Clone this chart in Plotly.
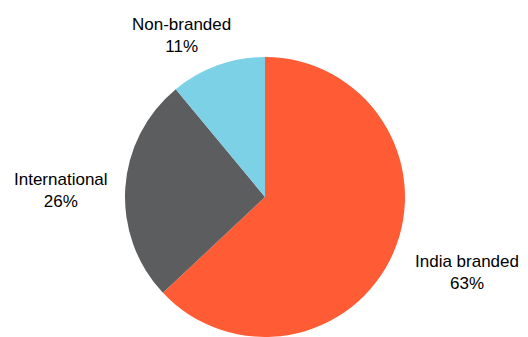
import plotly.graph_objects as go

# Market share by segment (%)
segments = ["India branded", "International", "Non-branded"]
shares = [63, 26, 11]

colors = ["#FF5B35", "#5C5D5F", "#7DD1E6"]
# label centres (pixels from top-left), one per segment
label_xy = [(467, 272), (61, 191), (181, 35)]

W, H = 528, 337
cx, cy, r = 265, 197, 140

fig = go.Figure(
    go.Pie(
        labels=segments,
        values=shares,
        sort=False,
        direction="clockwise",
        rotation=0,
        marker=dict(colors=colors, line=dict(width=0)),
        textinfo="none",
        hoverinfo="label+percent",
        showlegend=False,
        domain=dict(x=[(cx - r) / W, (cx + r) / W],
                    y=[(H - cy - r) / H, (H - cy + r) / H]),
    )
)

fig.update_layout(
    width=W,
    height=H,
    margin=dict(l=0, r=0, t=0, b=0),
    paper_bgcolor="white",
    plot_bgcolor="white",
    font=dict(family="Liberation Sans, Arial, sans-serif", size=17, color="#000000"),
    annotations=[
        dict(
            text=f"{name}<br>{val}%",
            x=px / W,
            y=(H - py) / H,
            xref="paper",
            yref="paper",
            xanchor="center",
            yanchor="middle",
            showarrow=False,
            align="center",
        )
        for name, val, (px, py) in zip(segments, shares, label_xy)
    ],
)

fig.write_html("out.html")
